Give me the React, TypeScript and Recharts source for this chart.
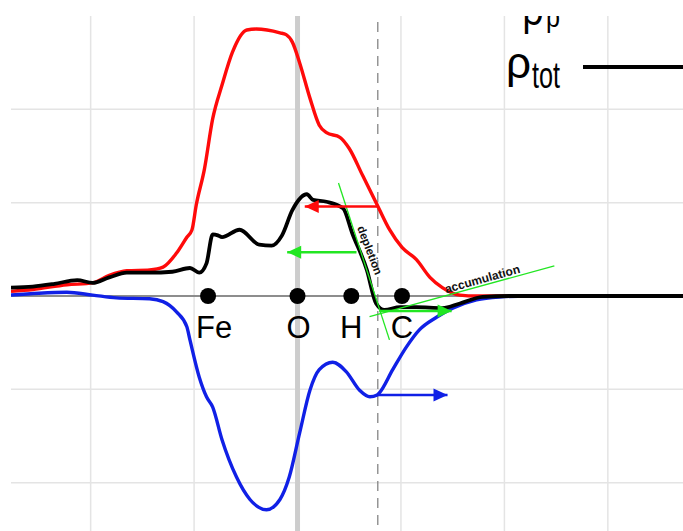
import React from 'react';
import {
  ComposedChart,
  Line,
  Scatter,
  XAxis,
  YAxis,
  CartesianGrid,
  ReferenceLine,
  ReferenceDot,
  Legend,
} from 'recharts';

type P = { x: number; y: number };
const pts = (a: number[][]): P[] => a.map(([x, y]) => ({ x, y }));

// grid ticks (distance along the interface normal, O plane at 0)
const xTicks = [-2, -1, 0, 1, 2, 3, 4];
const yTicks = [-2, -1, 0, 1, 2];
const xDomain = [-2.77, 4.5];
const yDomain = [-3, 3];

// ρ+ (red)
const rhoPlus = pts([
  [-2.77, 0.05], [-2.56, 0.07], [-2.23, 0.12], [-1.98, 0.14], [-1.82, 0.22],
  [-1.65, 0.27], [-1.43, 0.28], [-1.3, 0.31], [-1.17, 0.46], [-1.07, 0.63],
  [-1.02, 0.71], [-0.98, 0.97], [-0.9, 1.36], [-0.82, 1.9], [-0.73, 2.26],
  [-0.63, 2.61], [-0.49, 2.85], [-0.4, 2.86], [-0.17, 2.82], [-0.11, 2.8],
  [-0.05, 2.72], [0.02, 2.5], [0.12, 2.12], [0.21, 1.83], [0.28, 1.75],
  [0.41, 1.7], [0.5, 1.58], [0.63, 1.29], [0.76, 1.0], [0.89, 0.71],
  [1.01, 0.52], [1.15, 0.39], [1.28, 0.2], [1.4, 0.09], [1.57, 0.01],
  [1.73, 0], [2.05, 0], [4.5, 0],
]);

// ρ- (blue)
const rhoMinus = pts([
  [-2.77, 0.01], [-2.5, 0.03], [-2.23, 0.04], [-1.98, 0.01], [-1.75, -0.02],
  [-1.43, -0.03], [-1.3, -0.06], [-1.17, -0.17], [-1.07, -0.33], [-1.04, -0.47],
  [-0.95, -0.87], [-0.88, -1.08], [-0.82, -1.19], [-0.73, -1.54], [-0.59, -1.94],
  [-0.46, -2.18], [-0.3, -2.29], [-0.17, -2.18], [-0.08, -1.94], [0.02, -1.47],
  [0.12, -1.01], [0.21, -0.79], [0.34, -0.71], [0.47, -0.81], [0.6, -1.01],
  [0.7, -1.08], [0.77, -1.06], [0.79, -1.04], [0.92, -0.79], [1.05, -0.55],
  [1.18, -0.36], [1.34, -0.23], [1.5, -0.13], [1.73, -0.04], [1.95, -0.01],
  [2.23, 0], [4.5, 0],
]);

// ρ_tot (black)
const rhoTot = pts([
  [-2.77, 0.09], [-2.56, 0.1], [-2.35, 0.13], [-2.13, 0.17], [-1.98, 0.14],
  [-1.82, 0.2], [-1.65, 0.25], [-1.43, 0.25], [-1.21, 0.26], [-1.04, 0.3],
  [-0.95, 0.25], [-0.88, 0.35], [-0.82, 0.66], [-0.77, 0.65], [-0.73, 0.63],
  [-0.56, 0.71], [-0.37, 0.55], [-0.25, 0.54], [-0.15, 0.65], [-0.05, 0.92],
  [0.09, 1.09], [0.15, 1.03], [0.28, 1.01], [0.44, 0.94], [0.53, 0.67],
  [0.67, 0.28], [0.76, -0.08], [0.84, -0.15], [0.99, -0.12], [1.15, -0.12],
  [1.4, -0.13], [1.57, -0.08], [1.79, -0.01], [2.05, 0], [4.5, 0],
]);

// atoms on the axis
const atomNames = ['Fe', 'O', 'H', 'C'];
const atomX = [-0.865, 0, 0.52, 1.01];
const atoms = atomNames.map((name, i) => ({ x: atomX[i], y: 0, name }));

const oxygenPlaneX = 0;
const boundaryX = 0.776;

// arrows [start, tip]
const redArrow = pts([[0.776, 0.96], [0.07, 0.96]]);
const greenArrowUp = pts([[0.57, 0.47], [-0.1, 0.47]]);
const greenArrowLow = pts([[0.79, -0.16], [1.49, -0.16]]);
const blueArrow = pts([[0.776, -1.06], [1.45, -1.06]]);

// tangent lines
const depletionLine = pts([[0.396, 1.21], [0.889, -0.47]]);
const accumulationLine = pts([[0.696, -0.22], [2.483, 0.323]]);

const annotationText = ['depletion', 'accumulation'];
const depletionPos = { x: 0.7, y: 0.49 };
const accumulationPos = { x: 1.787, y: 0.182 };

const legendItems = [
  { base: 'ρ', sub: 'p' },
  { base: 'ρ', sub: 'tot' },
];

const RED = '#ff0a0a';
const BLUE = '#1020e6';
const GREEN = '#22e622';
const FONT = 'Liberation Sans, Arial, Helvetica, sans-serif';

const arrowDot = (data: P[], color: string) => {
  const dir = Math.sign(data[1].x - data[0].x);
  return (props: any) => {
    const { cx, cy, index } = props;
    if (index !== data.length - 1 || cx == null) return <g key={`n${index}`} />;
    const L = 14;
    const W = 6.5;
    const bx = cx - dir * L;
    return (
      <polygon
        key={`a${index}`}
        points={`${cx},${cy} ${bx},${cy - W} ${bx},${cy + W}`}
        fill={color}
        stroke="none"
      />
    );
  };
};

const AtomShape = (props: any) => {
  const { cx, cy, payload } = props;
  const dx = payload.name === 'Fe' ? 6 : payload.name === 'O' ? 1 : 0;
  return (
    <g>
      <circle cx={cx} cy={cy} r={8} fill="#000" />
      <text
        x={cx + dx}
        y={cy + 42}
        textAnchor="middle"
        fontSize={31}
        fontFamily={FONT}
        fill="#000"
      >
        {payload.name}
      </text>
    </g>
  );
};

const rotatedLabel = (text: string, angle: number, size: number) => (p: any) => (
  <text
    x={p.cx}
    y={p.cy}
    transform={`rotate(${angle} ${p.cx} ${p.cy})`}
    textAnchor="middle"
    dominantBaseline="central"
    fontSize={size}
    fontWeight="bold"
    fontFamily={FONT}
    fill="#111"
  >
    {text}
  </text>
);

const LegendContent = () => (
  <svg width={683} height={100} style={{ display: 'block', overflow: 'hidden' }}>
    <defs>
      <clipPath id="legendClip">
        <rect x={0} y={0} width={683} height={100} />
      </clipPath>
    </defs>
    <g clipPath="url(#legendClip)">
      <text x={522.5} y={9} fontSize={44} fontFamily={FONT} fill="#000" textLength={21} lengthAdjust="spacingAndGlyphs">
        {legendItems[0].base}
      </text>
      <text x={546} y={11} fontSize={30} fontFamily={FONT} fill="#000" textLength={14} lengthAdjust="spacingAndGlyphs">
        {legendItems[0].sub}
      </text>
      <text x={506} y={62} fontSize={44} fontFamily={FONT} fill="#000">
        {legendItems[1].base}
      </text>
      <text x={532} y={72} fontSize={36} fontFamily={FONT} fill="#000" textLength={28} lengthAdjust="spacingAndGlyphs">
        {legendItems[1].sub}
      </text>
      <line x1={583} x2={690} y1={51} y2={51} stroke="#000" strokeWidth={4} />
    </g>
  </svg>
);

export default function App() {
  return (
    <div
      style={{
        position: 'fixed',
        left: 0,
        top: 0,
        width: 683,
        height: 531,
        overflow: 'hidden',
        background: '#fff',
      }}
    >
      <ComposedChart width={763} height={576} margin={{ top: 16, left: 11, right: 0, bottom: 0 }}>
        <XAxis
          type="number"
          dataKey="x"
          domain={xDomain}
          ticks={xTicks}
          allowDataOverflow
          hide
        />
        <YAxis type="number" domain={yDomain} ticks={yTicks} allowDataOverflow hide />
        <CartesianGrid
          stroke="#e4e4e4"
          strokeWidth={1.5}
          verticalValues={xTicks}
          horizontalValues={yTicks}
        />
        <ReferenceLine x={oxygenPlaneX} stroke="#cdcdcd" strokeWidth={5} />
        <ReferenceLine x={boundaryX} stroke="#858585" strokeWidth={1.3} strokeDasharray="10 7" />
        <ReferenceLine y={0} stroke="#6e6e6e" strokeWidth={1.5} />

        <Line data={rhoPlus} dataKey="y" type="monotone" stroke={RED} strokeWidth={3.4} dot={false} isAnimationActive={false} />
        <Line data={rhoMinus} dataKey="y" type="monotone" stroke={BLUE} strokeWidth={3.4} dot={false} isAnimationActive={false} />
        <Line data={rhoTot} dataKey="y" type="monotone" stroke="#000" strokeWidth={3.8} dot={false} isAnimationActive={false} />

        <Line data={depletionLine} dataKey="y" type="linear" stroke={GREEN} strokeWidth={1.3} dot={false} isAnimationActive={false} />
        <Line data={accumulationLine} dataKey="y" type="linear" stroke={GREEN} strokeWidth={1.3} dot={false} isAnimationActive={false} />

        <Line data={redArrow} dataKey="y" type="linear" stroke={RED} strokeWidth={2.5} dot={arrowDot(redArrow, RED)} isAnimationActive={false} />
        <Line data={greenArrowUp} dataKey="y" type="linear" stroke={GREEN} strokeWidth={2.5} dot={arrowDot(greenArrowUp, GREEN)} isAnimationActive={false} />
        <Line data={greenArrowLow} dataKey="y" type="linear" stroke={GREEN} strokeWidth={2.5} dot={arrowDot(greenArrowLow, GREEN)} isAnimationActive={false} />
        <Line data={blueArrow} dataKey="y" type="linear" stroke={BLUE} strokeWidth={2.5} dot={arrowDot(blueArrow, BLUE)} isAnimationActive={false} />

        <Scatter data={atoms} dataKey="y" shape={AtomShape} isAnimationActive={false} />

        <ReferenceDot
          x={depletionPos.x}
          y={depletionPos.y}
          r={0}
          shape={rotatedLabel(annotationText[0], 69, 11.5)}
        />
        <ReferenceDot
          x={accumulationPos.x}
          y={accumulationPos.y}
          r={0}
          shape={rotatedLabel(annotationText[1], -15.5, 12)}
        />

        <Legend
          layout="horizontal"
          verticalAlign="middle"
          align="center"
          content={LegendContent}
          wrapperStyle={{ left: 0, top: 16, width: 683, height: 100, overflow: 'hidden' }}
        />
      </ComposedChart>
    </div>
  );
}
